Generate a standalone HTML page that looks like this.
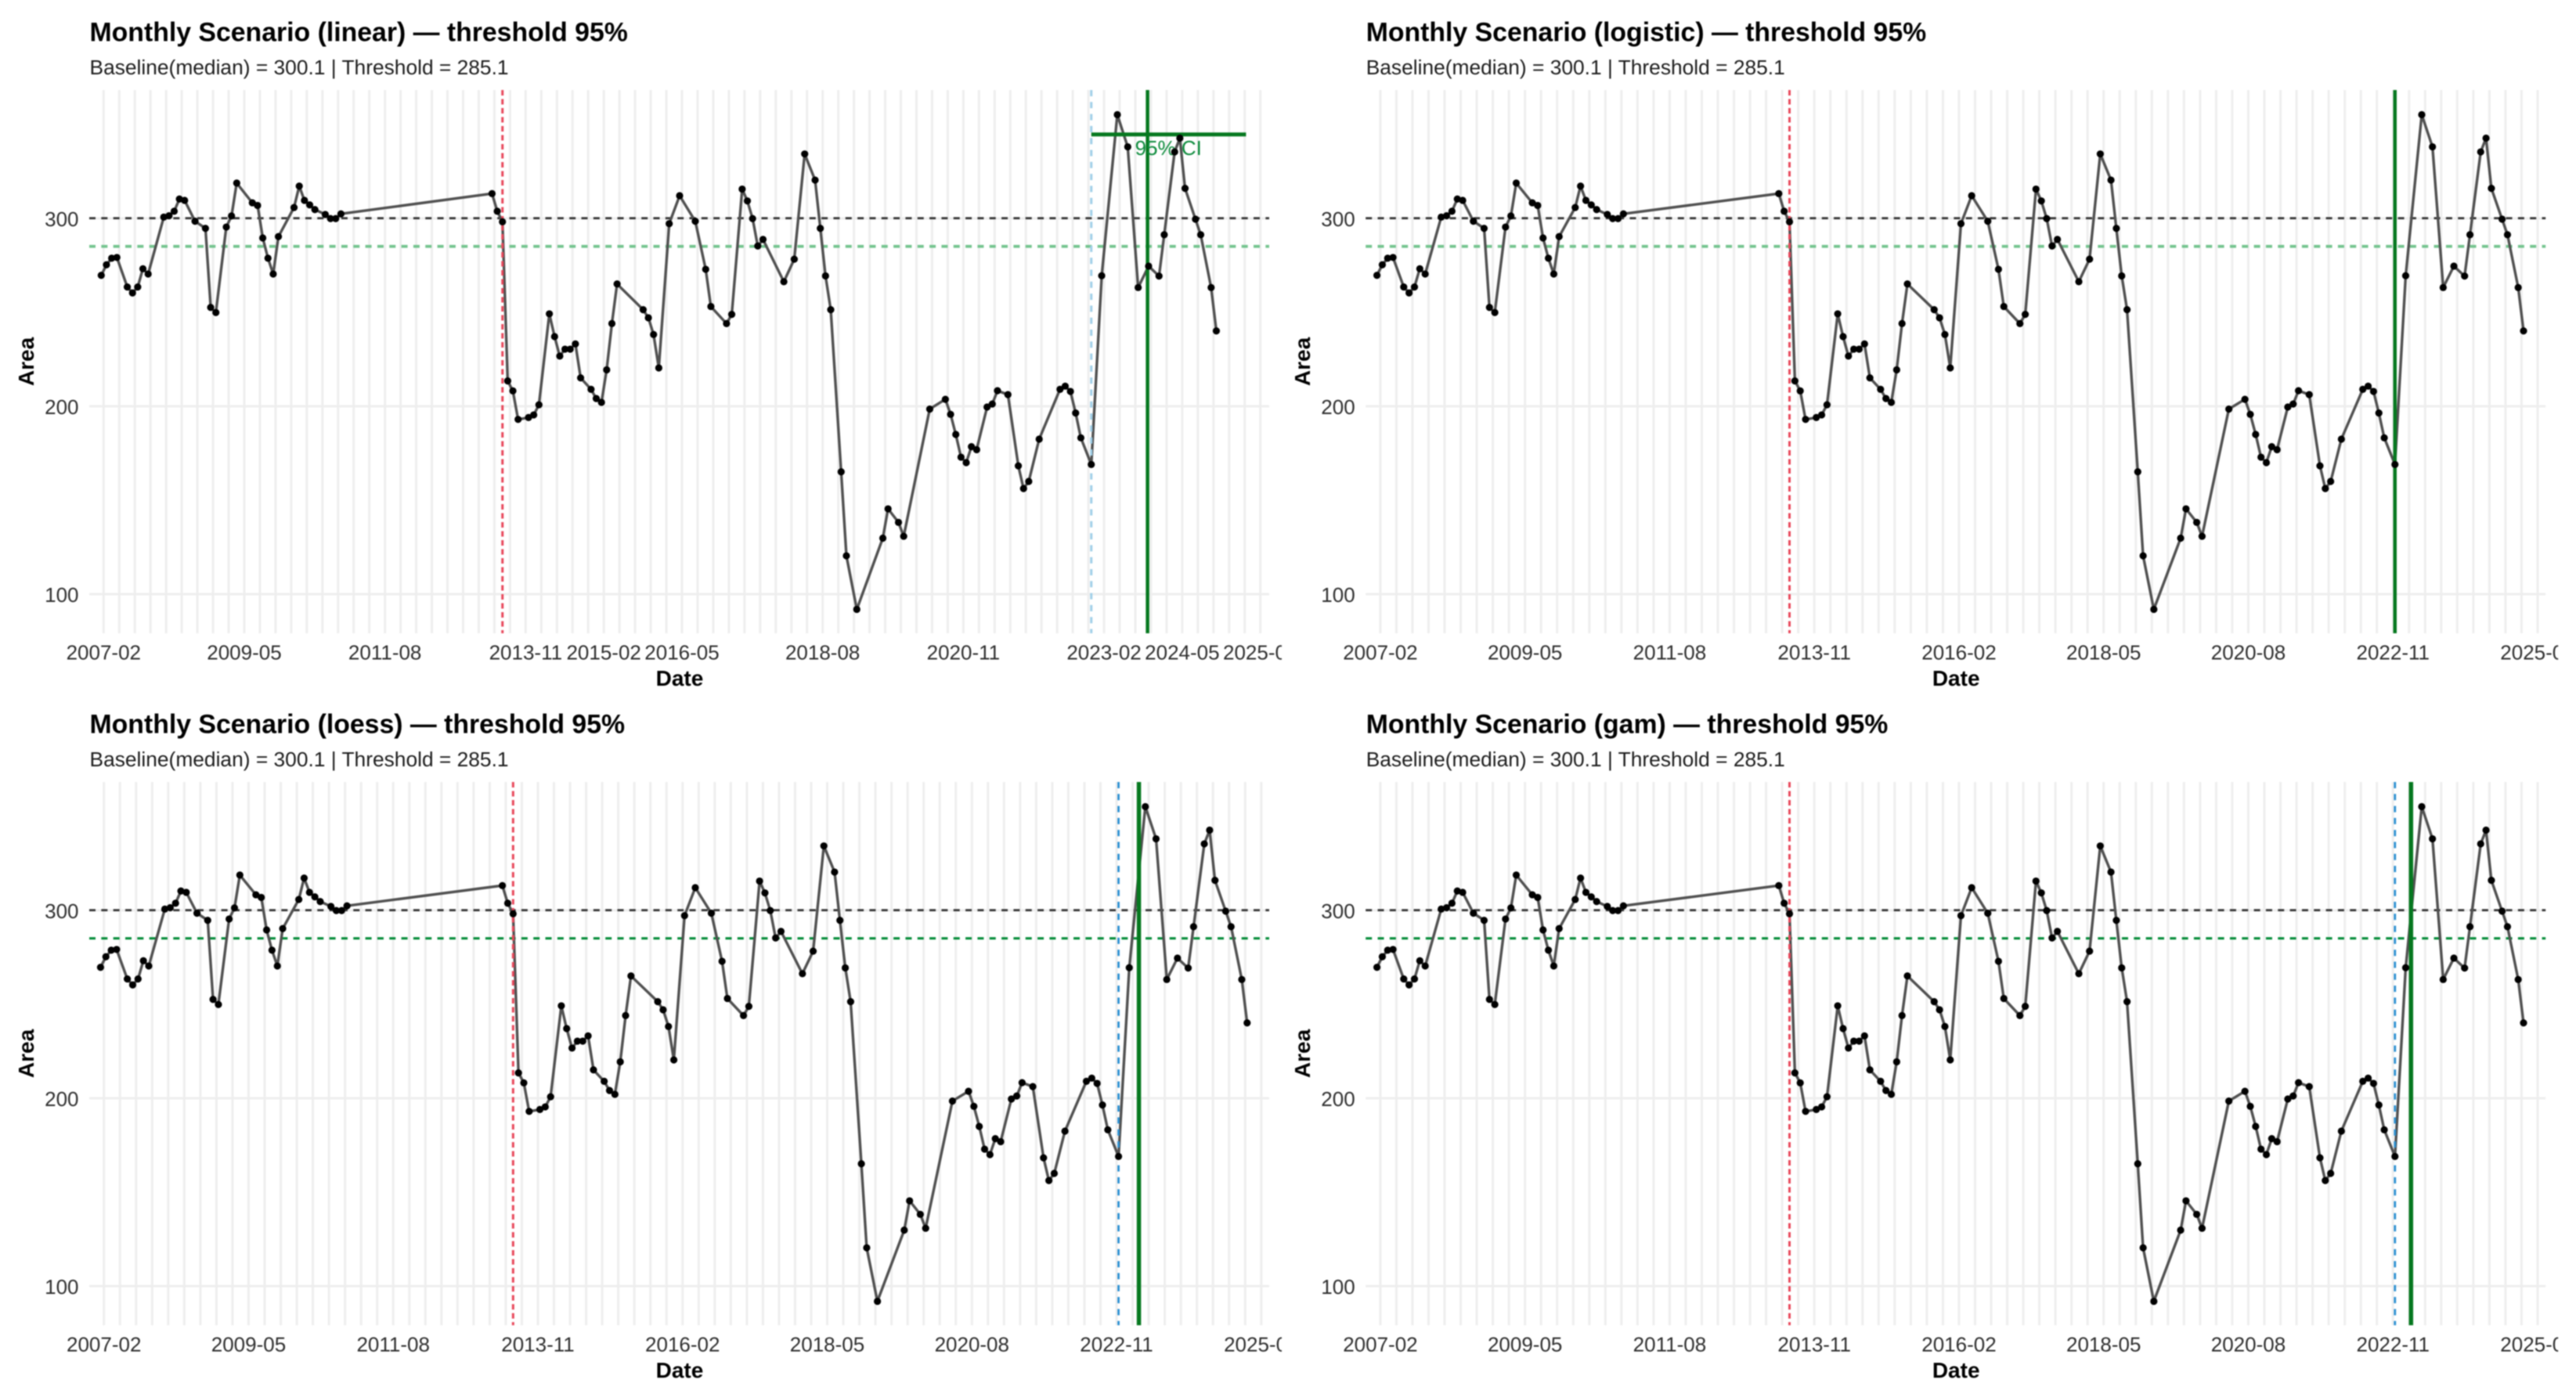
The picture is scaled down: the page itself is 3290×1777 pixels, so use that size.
<!DOCTYPE html>
<html lang="en">
<head>
<meta charset="utf-8">
<title>Monthly Scenario thresholds</title>
<style>
html,body{margin:0;padding:0;background:#fff;width:3290px;height:1777px;overflow:hidden}
svg{display:block;filter:blur(0.85px)}
text{font-family:"Liberation Sans",Arial,sans-serif}
.title{font-size:33.8px;font-weight:700;fill:#000}
.subtitle{font-size:26.35px;fill:#1c1c1c}
.axis-title{font-size:28px;font-weight:700;fill:#000}
.tick{font-size:26px;fill:#2e2e2e}
</style>
</head>
<body>
<svg xmlns="http://www.w3.org/2000/svg" width="3290" height="1777" viewBox="0 0 3290 1777">
<defs>
<clipPath id="panel-clip"><rect x="0" y="0" width="1637" height="880"/></clipPath>
</defs>
<rect width="3290" height="1777" fill="#fff"/>

<g id="panel-0" transform="translate(0,0)" clip-path="url(#panel-clip)">
<text class="title" x="114.5" y="52.5">Monthly Scenario (linear) — threshold 95%</text>
<text class="subtitle" x="114.5" y="95">Baseline(median) = 300.1 | Threshold = 285.1</text>
<text class="axis-title" x="868" y="876" text-anchor="middle">Date</text>
<text class="axis-title" transform="translate(43,462) rotate(-90)" text-anchor="middle">Area</text>
</g>

<g id="panel-1" transform="translate(1630.2,0)" clip-path="url(#panel-clip)">
<text class="title" x="114.5" y="52.5">Monthly Scenario (logistic) — threshold 95%</text>
<text class="subtitle" x="114.5" y="95">Baseline(median) = 300.1 | Threshold = 285.1</text>
<text class="axis-title" x="868" y="876" text-anchor="middle">Date</text>
<text class="axis-title" transform="translate(43,462) rotate(-90)" text-anchor="middle">Area</text>
</g>

<g id="panel-2" transform="translate(0,884)" clip-path="url(#panel-clip)">
<text class="title" x="114.5" y="52.5">Monthly Scenario (loess) — threshold 95%</text>
<text class="subtitle" x="114.5" y="95">Baseline(median) = 300.1 | Threshold = 285.1</text>
<text class="axis-title" x="868" y="876" text-anchor="middle">Date</text>
<text class="axis-title" transform="translate(43,462) rotate(-90)" text-anchor="middle">Area</text>
</g>

<g id="panel-3" transform="translate(1630.2,884)" clip-path="url(#panel-clip)">
<text class="title" x="114.5" y="52.5">Monthly Scenario (gam) — threshold 95%</text>
<text class="subtitle" x="114.5" y="95">Baseline(median) = 300.1 | Threshold = 285.1</text>
<text class="axis-title" x="868" y="876" text-anchor="middle">Date</text>
<text class="axis-title" transform="translate(43,462) rotate(-90)" text-anchor="middle">Area</text>
</g>
</svg>

<script>
// Months elapsed since the first observation, and the area read for each month.
const observationMonths = [0,1,2,3,5,6,7,8,9,12,13,14,15,16,18,20,21,22,24,25,26,29,30,31,32,33,34,37,38,39,40,41,43,44,45,46,75,76,77,78,79,80,82,83,84,86,87,88,89,90,91,92,94,95,96,97,98,99,104,105,106,107,109,111,114,116,117,120,121,123,124,125,126,127,131,133,135,137,138,139,140,142,143,145,150,151,153,154,159,162,163,164,165,166,167,168,170,171,172,174,176,177,178,180,184,185,186,187,188,190,192,195,197,199,201,203,204,206,207,208,210,211,213,214];
const areaValues = [269.7,275.3,278.8,279.2,263.5,260.3,263.5,273.2,270.4,300.7,301.4,303.8,310.3,309.6,298.5,294.7,252.6,249.9,295.4,301.3,318.8,308.3,306.9,289.6,278.8,270.4,290.3,305.8,317.2,309.6,307.2,304.7,302.1,299.9,299.9,302.4,313.2,303.8,298.2,213.5,208.2,193.0,194.0,195.4,200.8,249.2,237.1,226.7,230.4,230.4,233.2,215.1,209.0,204.1,202.1,219.4,244.0,265.1,251.4,247.1,238.2,220.4,297.2,312.1,298.5,272.9,253.1,244.0,248.9,315.6,309.3,299.9,285.3,288.8,266.3,278.3,334.3,320.4,294.7,269.4,251.4,165.1,120.4,91.9,129.8,145.4,138.2,130.8,198.5,203.7,195.7,185.0,172.9,170.0,178.5,176.9,199.6,201.2,208.3,206.2,168.3,156.2,160.0,182.5,209.0,210.7,207.9,196.4,183.2,169.0,269.5,355.2,338.1,263.2,274.6,269.3,291.3,335.4,342.7,316.0,299.6,291.3,263.2,240.1];

// Tick labels.
const yTickValues = [100,200,300];
const linearTickLabels = ['2007-02','2009-05','2011-08','2013-11','2015-02','2016-05','2018-08','2020-11','2023-02','2024-05','2025-08'];
const otherTickLabels = ['2007-02','2009-05','2011-08','2013-11','2016-02','2018-05','2020-08','2022-11','2025-02'];

// Reference levels and per-panel event months (same month units as observationMonths).
const baselineValue = 300.1;
const thresholdValue = 285.1;
const breakMonth = 77;
const onsetMonths = [190,190,190,190];
const estimateMonths = [200.8,190,193.8,193];
const ciLowMonth = [190];
const ciHighMonth = [219.7];
const ciLevel = [344.7];
const ciLabels = ['95% CI'];

const NS = 'http://www.w3.org/2000/svg';
const PLOT_LEFT = 114, PLOT_RIGHT = 1621, PLOT_TOP = 115, PLOT_BOTTOM = 809;

function yScale(v){ return 279 + (300 - v) * 2.4; }
function xScale(panel, month){
  return panel === 0 ? 129.3 + 6.655 * month : 128.4 + 6.843 * month;
}
function tickMonth(panel, monthsSinceStart){
  return monthsSinceStart + (panel === 0 ? 0.45 : 0.63);
}
function labelToOffset(label){
  const p = label.split('-');
  return (Number(p[0]) - 2007) * 12 + Number(p[1]) - 2;
}
function make(parent, tag, attrs){
  const el = document.createElementNS(NS, tag);
  for (const k in attrs) el.setAttribute(k, attrs[k]);
  parent.appendChild(el);
  return el;
}

for (let p = 0; p < 4; p++) {
  const root = document.getElementById('panel-' + p);
  const topRow = p < 2;
  const labels = p === 0 ? linearTickLabels : otherTickLabels;
  const lastOffset = labelToOffset(labels[labels.length - 1]);

  // Vertical grid every quarter
  for (let m = 0; m <= lastOffset; m += 3) {
    const gx = xScale(p, tickMonth(p, m));
    const g = make(root, 'line', {x1:gx, x2:gx, y1:PLOT_TOP, y2:PLOT_BOTTOM, stroke:'#eeeeee', 'stroke-width':3});
    
    
  }
  // Horizontal grid and y ticks
  yTickValues.forEach(function(v){
    const gy = yScale(v);
    const g = make(root, 'line', {x1:PLOT_LEFT, x2:PLOT_RIGHT, y1:gy, y2:gy, stroke:'#eeeeee', 'stroke-width':3});
    
    
    const t = make(root, 'text', {x:100.5, y:gy + 10, 'text-anchor':'end', 'class':'tick'});
    
    
    t.textContent = String(v);
  });
  // X tick labels
  labels.forEach(function(lbl){
    const tx = xScale(p, tickMonth(p, labelToOffset(lbl)));
    const t = make(root, 'text', {x:tx, y:842.7, 'text-anchor':'middle', 'class':'tick'});
    
    
    t.textContent = lbl;
  });

  // Baseline and threshold
  const bl = make(root, 'line', {x1:PLOT_LEFT, x2:PLOT_RIGHT, y1:yScale(baselineValue), y2:yScale(baselineValue), stroke:'#333333', 'stroke-width':2.8, 'stroke-dasharray':'8 7.33'});
  
  
  const th = make(root, 'line', {x1:PLOT_LEFT, x2:PLOT_RIGHT, y1:yScale(thresholdValue), y2:yScale(thresholdValue),
    stroke: topRow ? '#74c48e' : '#008a35', 'stroke-width': topRow ? 3.8 : 3, 'stroke-dasharray':'8 7.33'});
  
  

  // Series line
  const pts = observationMonths.map(function(m, i){
    return xScale(p, m).toFixed(1) + ',' + yScale(areaValues[i]).toFixed(1);
  }).join(' ');
  const series = make(root, 'polyline', {points:pts, fill:'none', stroke:'#505050', 'stroke-width':3.4, 'stroke-linejoin':'round'});
  
  

  // Break (red) line
  const rx = xScale(p, breakMonth);
  const red = make(root, 'line', {x1:rx, x2:rx, y1:PLOT_TOP, y2:PLOT_BOTTOM, stroke:'#e8475a', 'stroke-width':3, 'stroke-dasharray':'7 4.5'});
  
  

  // Onset (blue) line
  const bx = xScale(p, onsetMonths[p]);
  if (p !== 1) {
    const blue = make(root, 'line', {x1:bx, x2:bx, y1:PLOT_TOP, y2:PLOT_BOTTOM,
      stroke: p === 0 ? '#9fcfe8' : '#2b90d2', 'stroke-width': p === 0 ? 3 : 2.8, 'stroke-dasharray':'8 7.3'});
    
    
  }

  // Estimate (green) line
  const ex = xScale(p, estimateMonths[p]);
  const green = make(root, 'line', {x1:ex, x2:ex, y1:PLOT_TOP, y2:PLOT_BOTTOM, stroke:'#06781f', 'stroke-width': p >= 2 ? 5.5 : 4.5});
  
  

  // Confidence interval (linear panel only)
  if (p === 0) {
    const ci = make(root, 'line', {x1:xScale(p, ciLowMonth[0]), x2:xScale(p, ciHighMonth[0]), y1:yScale(ciLevel[0]), y2:yScale(ciLevel[0]), stroke:'#06781f', 'stroke-width':5});
    
    
    const ciText = make(root, 'text', {x:xScale(p, 204.8), y:198, 'text-anchor':'middle', fill:'#0a8a3a', 'font-size':'26px'});
    
    
    ciText.textContent = ciLabels[0];
  }

  // Points
  observationMonths.forEach(function(m, i){
    const c = make(root, 'circle', {cx:xScale(p, m), cy:yScale(areaValues[i]), r:4.6, fill:'#000'});
    
    
  });
}
</script>
</body>
</html>
